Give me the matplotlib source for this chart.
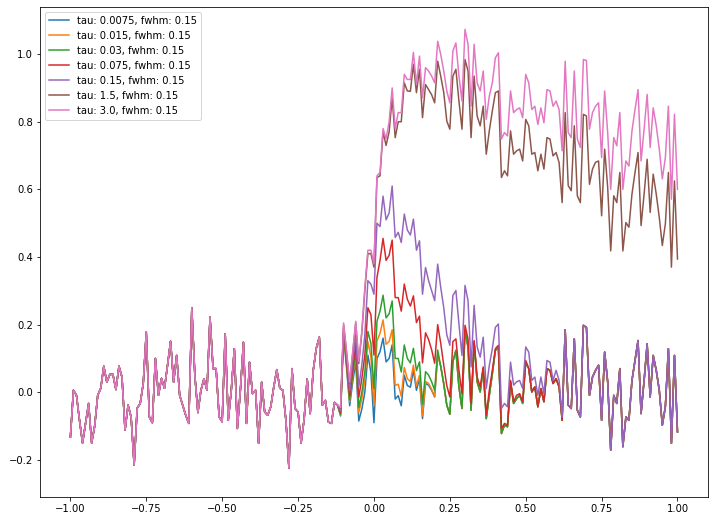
import numpy as np
import matplotlib
matplotlib.use("Agg")
import matplotlib.pyplot as plt

# x grid: 201 samples from -1 to 1
x = np.linspace(-1, 1, 201)

# part shared by every curve (x = -1.00 .. -0.12)
head = [
    -0.132, 0.006, -0.009, -0.083, -0.150, -0.092, -0.033, -0.150, -0.100, -0.009,
    0.012, 0.077, 0.030, 0.053, 0.053, 0.008, 0.077, 0.045, -0.112, -0.038,
    -0.073, -0.215, -0.047, -0.033, 0.026, 0.178, -0.073, -0.090, 0.100, -0.009,
    0.041, 0.012, 0.080, 0.151, 0.030, 0.109, -0.009, -0.038, -0.068, -0.092,
    0.250, 0.050, -0.060, 0.006, 0.040, 0.006, 0.222, 0.070, 0.070, -0.073,
    -0.087, 0.173, -0.083, 0.006, 0.129, -0.107, 0.006, 0.148, -0.092, 0.089,
    -0.004, 0.006, -0.151, 0.030, -0.058, -0.068, -0.043, 0.016, 0.067, 0.012,
    0.006, -0.083, -0.225, 0.070, -0.048, -0.058, -0.150, -0.080, 0.040, -0.063,
    0.065, 0.130, 0.163, -0.038, -0.024, -0.088, -0.092, -0.030, -0.038,
]

# baseline again once the short-tau curves have relaxed (x = 0.22 .. 1.00)
base_tail = [
    0.077, 0.025, -0.038, -0.065, 0.090, 0.124, 0.016, -0.048, 0.183, 0.133,
    -0.053, 0.148, 0.031, 0.001, 0.070, -0.078, -0.009, 0.055, 0.124, 0.133,
    -0.122, -0.097, -0.102, 0.031, -0.033, -0.019, -0.009, -0.033, 0.089, 0.070,
    0.001, 0.016, -0.043, 0.011, -0.028, 0.070, 0.065, 0.026, 0.040, 0.016,
    -0.083, 0.185, -0.038, -0.048, 0.158, -0.053, -0.073, 0.198, 0.192, -0.009,
    0.045, 0.065, 0.080, -0.083, 0.119, 0.031, -0.171, -0.009, -0.033, 0.070,
    -0.161, -0.073, -0.083, 0.035, 0.094, 0.153, -0.063, 0.035, 0.143, -0.014,
    0.109, 0.065, 0.006, -0.097, -0.043, 0.129, -0.151, 0.109, -0.117,
]

# x = -0.11 .. 0.21
blue_mid = [
    -0.070, 0.170, 0.070, -0.040, 0.030, 0.090, -0.085, -0.050, 0.000, 0.110,
    0.060, -0.090, 0.100, 0.120, 0.160, 0.090, 0.100, 0.140, -0.020, -0.010,
    -0.040, 0.050, 0.020, 0.015, 0.065, 0.006, 0.040, -0.078, 0.026, 0.021,
    0.006, -0.014, 0.110,
]
orange_mid = [
    -0.067, 0.175, 0.078, -0.028, 0.046, 0.110, -0.060, -0.020, 0.035, 0.150,
    0.105, -0.040, 0.152, 0.174, 0.214, 0.142, 0.150, 0.185, 0.020, 0.024,
    -0.012, 0.073, 0.040, 0.032, 0.080, 0.018, 0.050, -0.070, 0.032, 0.026,
    0.009, -0.012, 0.111,
]
green_mid = [
    -0.065, 0.178, 0.082, -0.022, 0.055, 0.122, -0.045, 0.000, 0.060, 0.180,
    0.145, 0.010, 0.210, 0.240, 0.287, 0.220, 0.232, 0.270, 0.100, 0.100,
    0.060, 0.140, 0.100, 0.087, 0.130, 0.064, 0.090, -0.036, 0.061, 0.051,
    0.031, 0.006, 0.125,
]
# x = -0.11 .. 0.50
red_mid = [
    -0.060, 0.185, 0.090, -0.010, 0.070, 0.145, -0.015, 0.040, 0.110, 0.250,
    0.230, 0.110, 0.340, 0.390, 0.455, 0.390, 0.405, 0.450, 0.280, 0.280,
    0.240, 0.320, 0.275, 0.255, 0.285, 0.206, 0.225, 0.087, 0.176, 0.156,
    0.126, 0.086, 0.200, 0.145, 0.080, 0.020, -0.014, 0.150, 0.158, 0.065,
    -0.004, 0.198, 0.158, -0.033, 0.153, 0.045, 0.016, 0.075, -0.068, 0.006,
    0.065, 0.129, 0.139, -0.107, -0.092, -0.097, 0.035, -0.028, -0.009, -0.004,
    -0.028, 0.094,
]
# x = -0.11 .. 0.62
purple_mid = [
    -0.055, 0.190, 0.100, 0.005, 0.090, 0.170, 0.015, 0.080, 0.170, 0.330,
    0.320, 0.290, 0.500, 0.490, 0.580, 0.510, 0.530, 0.610, 0.458, 0.473,
    0.443, 0.527, 0.480, 0.465, 0.512, 0.420, 0.448, 0.290, 0.369, 0.330,
    0.300, 0.271, 0.379, 0.310, 0.250, 0.170, 0.139, 0.286, 0.301, 0.202,
    0.109, 0.316, 0.271, 0.075, 0.257, 0.134, 0.104, 0.163, 0.011, 0.079,
    0.129, 0.192, 0.202, -0.048, -0.033, -0.043, 0.089, 0.021, 0.031, 0.035,
    0.011, 0.134, 0.119, 0.035, 0.045, -0.009, 0.045, -0.004, 0.094, 0.089,
    0.035, 0.065, 0.035, -0.073,
]
# x = -0.11 .. 1.00
brown_tail = [
    -0.047, 0.200, 0.115, 0.026, 0.115, 0.205, 0.085, 0.175, 0.300, 0.410,
    0.410, 0.370, 0.635, 0.640, 0.770, 0.730, 0.770, 0.870, 0.753, 0.800,
    0.800, 0.915, 0.891, 0.890, 0.970, 0.886, 0.955, 0.812, 0.910, 0.895,
    0.880, 0.856, 0.979, 0.935, 0.886, 0.802, 0.778, 0.935, 0.955, 0.861,
    0.778, 0.984, 0.950, 0.753, 0.935, 0.817, 0.788, 0.846, 0.704, 0.773,
    0.832, 0.886, 0.891, 0.635, 0.655, 0.640, 0.773, 0.704, 0.714, 0.719,
    0.684, 0.807, 0.788, 0.704, 0.709, 0.655, 0.704, 0.660, 0.753, 0.749,
    0.699, 0.709, 0.679, 0.561, 0.827, 0.611, 0.596, 0.788, 0.581, 0.561,
    0.822, 0.817, 0.615, 0.660, 0.680, 0.684, 0.522, 0.719, 0.606, 0.418,
    0.581, 0.561, 0.650, 0.418, 0.502, 0.488, 0.586, 0.650, 0.709, 0.493,
    0.586, 0.689, 0.532, 0.645, 0.586, 0.517, 0.434, 0.498, 0.650, 0.370,
    0.625, 0.394,
]
pink_tail = [
    -0.045, 0.205, 0.120, 0.030, 0.120, 0.210, 0.090, 0.180, 0.310, 0.420,
    0.420, 0.380, 0.640, 0.650, 0.780, 0.750, 0.800, 0.900, 0.780, 0.827,
    0.827, 0.940, 0.925, 0.925, 1.005, 0.910, 0.994, 0.871, 0.960, 0.950,
    0.935, 0.915, 1.038, 0.999, 0.950, 0.891, 0.856, 1.009, 1.033, 0.935,
    0.861, 1.073, 1.029, 0.846, 1.029, 0.915, 0.891, 0.950, 0.807, 0.876,
    0.915, 0.989, 1.004, 0.749, 0.768, 0.758, 0.891, 0.827, 0.836, 0.841,
    0.812, 0.940, 0.915, 0.836, 0.846, 0.792, 0.841, 0.797, 0.895, 0.891,
    0.846, 0.861, 0.836, 0.714, 0.979, 0.768, 0.753, 0.950, 0.749, 0.724,
    0.984, 0.981, 0.778, 0.827, 0.846, 0.856, 0.694, 0.891, 0.768, 0.600,
    0.753, 0.729, 0.827, 0.600, 0.684, 0.669, 0.773, 0.836, 0.895, 0.684,
    0.778, 0.881, 0.724, 0.841, 0.788, 0.719, 0.631, 0.694, 0.846, 0.571,
    0.822, 0.600,
]

taus = ["0.0075", "0.015", "0.03", "0.075", "0.15", "1.5", "3.0"]
fwhm = "0.15"

series = [
    head + blue_mid + base_tail,
    head + orange_mid + base_tail,
    head + green_mid + base_tail,
    head + red_mid + base_tail[29:],
    head + purple_mid + base_tail[41:],
    head + brown_tail,
    head + pink_tail,
]

fig = plt.figure(figsize=(715 / 72, 520 / 72), dpi=72)
ax = fig.add_axes([0.056, 0.044, 0.934, 0.943])

for tau, y in zip(taus, series):
    ax.plot(x, y, label=f"tau: {tau}, fwhm: {fwhm}")

ax.set_xlim(-1.1, 1.1)
ax.set_ylim(-0.31, 1.14)
ax.legend(loc="upper left")

fig.savefig("out.png", dpi=72)
